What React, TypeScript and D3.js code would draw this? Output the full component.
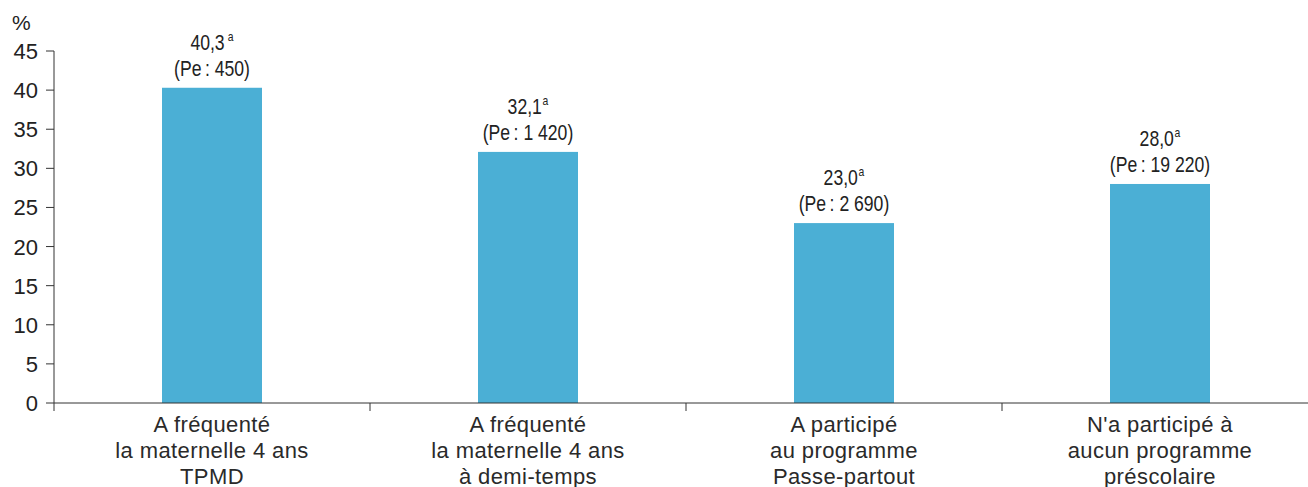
import React from "react";
import * as d3 from "d3";

const categories: string[][] = [
  ["A fréquenté", "la maternelle 4 ans", "TPMD"],
  ["A fréquenté", "la maternelle 4 ans", "à demi-temps"],
  ["A participé", "au programme", "Passe-partout"],
  ["N'a participé à", "aucun programme", "préscolaire"],
];
const values: number[] = [40.3, 32.1, 23.0, 28.0];
const valueLabels: string[] = ["40,3", "32,1", "23,0", "28,0"];
const peLabels: string[] = ["(Pe\u2009: 450)", "(Pe\u2009: 1 420)", "(Pe\u2009: 2 690)", "(Pe\u2009: 19 220)"];
const yTicks: number[] = [0, 5, 10, 15, 20, 25, 30, 35, 40, 45];

const W = 1308;
const H = 487;
const left = 54;
const right = 1318;
const top = 51;
const bottom = 403;
const barColor = "#4BAFD5";
const textColor = "#222";
const font = "'Liberation Sans', Arial, sans-serif";

export default function App() {
  const x = d3.scaleBand<number>().domain(d3.range(categories.length)).range([left, right]).paddingInner(0).paddingOuter(0);
  const y = d3.scaleLinear().domain([0, 45]).range([bottom, top]);
  const barW = 100;
  const bw = x.bandwidth();
  return (
    <svg width={W} height={H} style={{ position: "absolute", left: 0, top: 0, background: "#fff" }}>
      <text x={12} y={30} fontFamily={font} fontSize={21} fill={textColor}>%</text>
      {yTicks.map((t) => (
        <g key={t}>
          <line x1={left - 8} x2={left} y1={y(t)} y2={y(t)} stroke="#333" strokeWidth={1} />
          <text x={38} y={y(t) + 8} textAnchor="end" fontFamily={font} fontSize={22} fill={textColor}>{t}</text>
        </g>
      ))}
      {values.map((v, i) => {
        const cx = (x(i) as number) + bw / 2;
        const yt = y(v);
        return (
          <g key={i}>
            <rect x={cx - barW / 2} y={yt} width={barW} height={bottom - yt} fill={barColor} />
            <g transform={`translate(${cx},0) scale(0.8,1)`}>
              <text x={0} y={yt - 38} textAnchor="middle" fontFamily={font} fontSize={22} fill={textColor}>
                {valueLabels[i]}
                <tspan fontSize={13} dx={i === 0 ? 4 : 1} dy={-9}>a</tspan>
              </text>
              <text x={0} y={yt - 12} textAnchor="middle" fontFamily={font} fontSize={22} fill={textColor}>{peLabels[i]}</text>
            </g>
            {categories[i].map((line, j) => (
              <text key={j} x={cx} y={432 + j * 26} textAnchor="middle" fontFamily={font} fontSize={22} letterSpacing={0.4} fill="#2a2a2a">{line}</text>
            ))}
          </g>
        );
      })}
      {d3.range(categories.length + 1).map((i) => {
        const tx = left + i * bw;
        return <line key={i} x1={tx} x2={tx} y1={bottom} y2={bottom + 8} stroke="#333" strokeWidth={1} />;
      })}
      <line x1={left} x2={left} y1={top} y2={bottom} stroke="#333" strokeWidth={1} />
      <line x1={left} x2={W} y1={bottom} y2={bottom} stroke="#333" strokeWidth={1} />
    </svg>
  );
}
